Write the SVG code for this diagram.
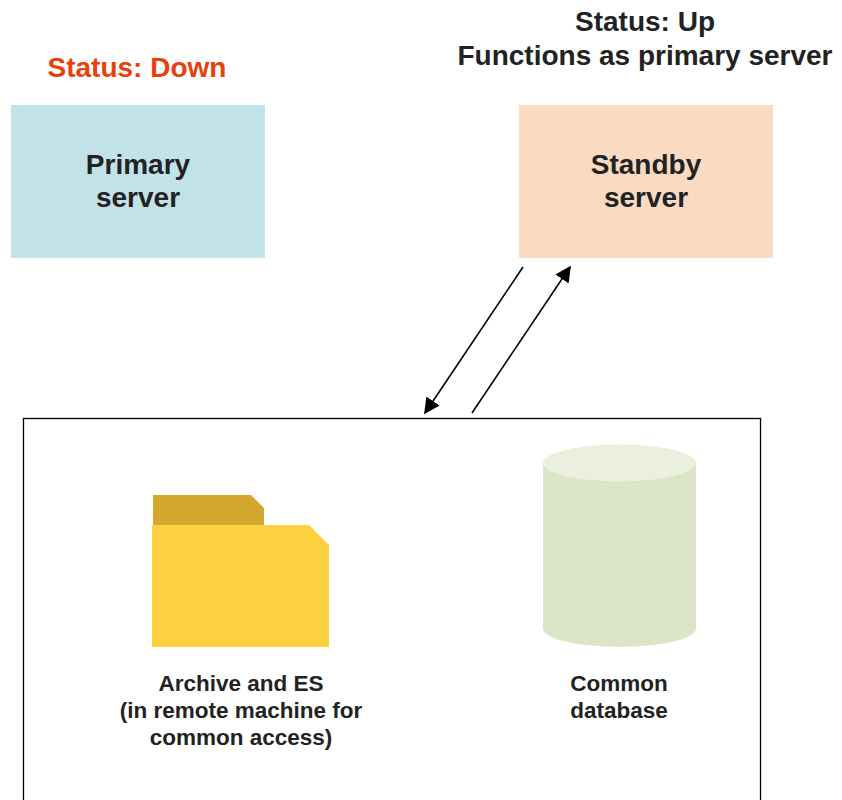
<svg xmlns="http://www.w3.org/2000/svg" width="842" height="800" viewBox="0 0 842 800">
<defs>
<style>
text{font-family:"Liberation Sans","Noto Sans",Arial,sans-serif;fill:#222;text-anchor:middle}
.title{font-size:28px;font-weight:bold}
.node{font-size:28px;font-weight:bold}
.lbl{font-size:22.5px;font-weight:bold}
.conn{stroke:#000;stroke-width:1.6;fill:none;marker-end:url(#ah)}
</style>
<marker id="ah" viewBox="0 0 10 10" refX="9" refY="5" markerWidth="16" markerHeight="16" markerUnits="userSpaceOnUse" orient="auto">
<path d="M0,0 L10,5 L0,10 z" fill="#000"/>
</marker>
</defs>
<rect width="842" height="800" fill="#fff"/>
<g id="status-down"><text class="title" x="137" y="77" style="fill:#E8400C">Status: Down</text></g>
<g id="status-up">
<text class="title" x="645" y="31">Status: Up</text>
<text class="title" x="645" y="65">Functions as primary server</text>
</g>
<g id="primary-server">
<rect x="11" y="105" width="254" height="153" fill="#C2E2EA"/>
<text class="node" x="138" y="174">Primary</text>
<text class="node" x="138" y="207">server</text>
</g>
<g id="standby-server">
<rect x="519" y="105" width="254" height="153" fill="#FADBC1"/>
<text class="node" x="646" y="174">Standby</text>
<text class="node" x="646" y="207">server</text>
</g>
<g id="shared-storage">
<rect x="23.5" y="418.5" width="737" height="400" fill="none" stroke="#000" stroke-width="1.3"/>
</g>
<g id="archive">
<path d="M153,495 H251 L264,508 V526 H153 Z" fill="#D4A82C"/>
<path d="M152,525 H309 L329,545 V647 H152 Z" fill="#FED140"/>
<text class="lbl" x="241" y="691">Archive and ES</text>
<text class="lbl" x="241" y="718">(in remote machine for</text>
<text class="lbl" x="241" y="745">common access)</text>
</g>
<g id="database">
<path d="M543,463 V628.5 A76.5,18.5 0 0 0 696,628.5 V463 Z" fill="#DDE5C8"/>
<ellipse cx="619.5" cy="463" rx="76.5" ry="18.5" fill="#EAF0DD"/>
<text class="lbl" x="619" y="691">Common</text>
<text class="lbl" x="619" y="718">database</text>
</g>
<g id="connectors">
<line class="conn" x1="523" y1="267" x2="425" y2="413"/>
<line class="conn" x1="472" y1="413" x2="570" y2="267"/>
</g>
</svg>
